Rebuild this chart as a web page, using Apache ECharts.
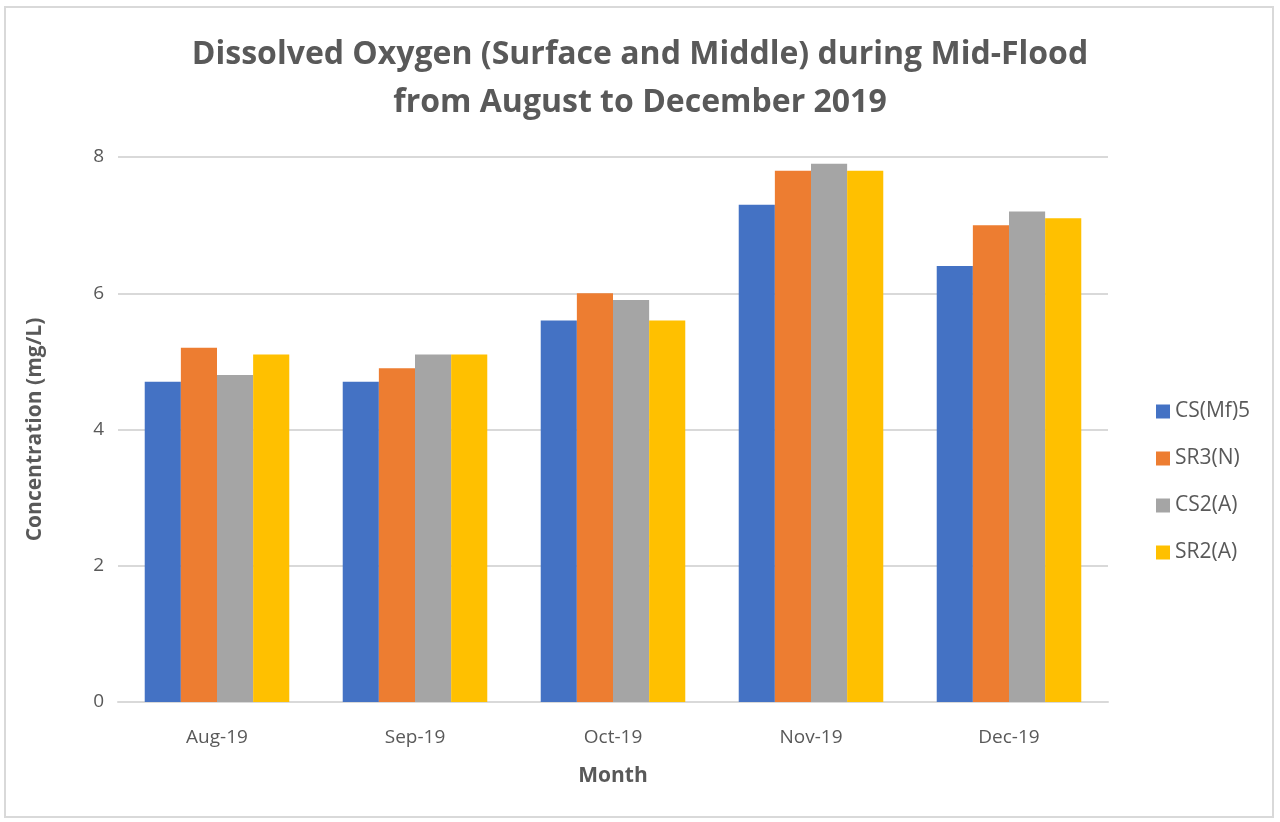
<!DOCTYPE html>
<html>
<head>
<meta charset="utf-8">
<script src="https://cdn.jsdelivr.net/npm/echarts@6/dist/echarts.min.js"></script>
<style>
  html, body { margin: 0; padding: 0; background: #fff; }
  .frame {
    position: absolute; left: 4px; top: 6px; width: 1270px; height: 812px;
    border: 2px solid #d9d9d9; box-sizing: border-box;
  }
  #chart { position: absolute; left: 0; top: 0; width: 1280px; height: 822px; }
</style>
</head>
<body>
<div class="frame"></div>
<div id="chart"></div>
<script>
// data
const months = ['Aug-19', 'Sep-19', 'Oct-19', 'Nov-19', 'Dec-19']
const csMf5 = [4.7, 4.7, 5.6, 7.3, 6.4]
const sr3N = [5.2, 4.9, 6.0, 7.8, 7.0]
const cs2A = [4.8, 5.1, 5.9, 7.9, 7.2]
const sr2A = [5.1, 5.1, 5.6, 7.8, 7.1]
const seriesNames = ['CS(Mf)5', 'SR3(N)', 'CS2(A)', 'SR2(A)']
const colors = ['#4472c4', '#ed7d31', '#a5a5a5', '#ffc000']

const font = '"Open Sans", sans-serif'
const chart = echarts.init(document.getElementById('chart'))

function bar(name, data, i) {
  return {
    name: name,
    type: 'bar',
    data: data,
    barGap: '0%',
    barCategoryGap: '27%',
    itemStyle: { color: colors[i] },
  }
}

chart.setOption({
  animation: false,
  color: colors,
  title: {
    text: 'Dissolved Oxygen (Surface and Middle) during Mid-Flood\nfrom August to December 2019',
    left: 'center',
    top: 26,
    textStyle: {
      fontFamily: '"Liberation Sans Narrow", "Open Sans", sans-serif',
      fontSize: 32,
      fontWeight: 'bold',
      color: '#595959',
      lineHeight: 48,
    },
  },
  legend: {
    orient: 'vertical',
    left: 1151,
    top: 394,
    itemWidth: 14,
    itemHeight: 14,
    itemGap: 22,
    icon: 'rect',
    data: seriesNames,
    textStyle: { fontFamily: font, fontSize: 21, color: '#595959', lineHeight: 25 },
  },
  grid: { left: 118, right: 172, top: 157, bottom: 120 },
  xAxis: {
    type: 'category',
    data: months,
    name: 'Month',
    nameLocation: 'middle',
    nameGap: 64,
    nameTextStyle: { fontFamily: font, fontSize: 21, fontWeight: 'bold', color: '#595959' },
    axisLine: { lineStyle: { color: '#d9d9d9', width: 2 } },
    axisTick: { show: false },
    axisLabel: { fontFamily: font, fontSize: 19, color: '#595959', margin: 26 },
  },
  yAxis: {
    type: 'value',
    min: 0,
    max: 8,
    interval: 2,
    name: 'Concentration (mg/L)',
    nameLocation: 'middle',
    nameGap: 72,
    nameTextStyle: { fontFamily: font, fontSize: 21, fontWeight: 'bold', color: '#595959' },
    axisLine: { show: false },
    axisTick: { show: false },
    axisLabel: { fontFamily: font, fontSize: 19, color: '#595959', margin: 14 },
    splitLine: { lineStyle: { color: '#d9d9d9', width: 2 } },
  },
  series: [
    bar(seriesNames[0], csMf5, 0),
    bar(seriesNames[1], sr3N, 1),
    bar(seriesNames[2], cs2A, 2),
    bar(seriesNames[3], sr2A, 3),
  ],
})
</script>
</body>
</html>
